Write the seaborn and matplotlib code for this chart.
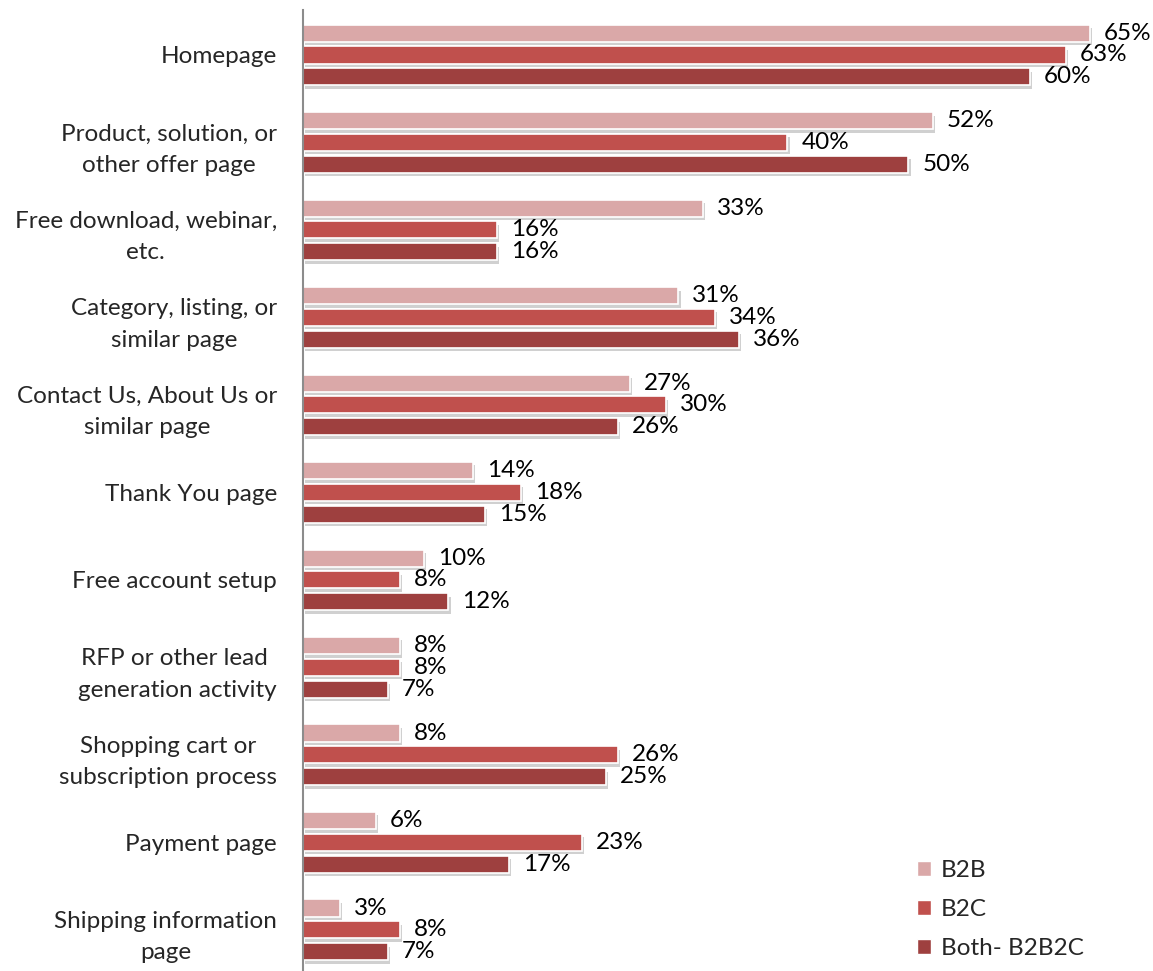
import matplotlib
matplotlib.use("Agg")
import matplotlib.pyplot as plt
import matplotlib.patheffects as pe
from matplotlib.patches import Patch
import pandas as pd
import seaborn as sns

categories = [
    "Homepage",
    "Product, solution, or\nother offer page",
    "Free download, webinar,\netc.",
    "Category, listing, or\nsimilar page",
    "Contact Us, About Us or\nsimilar page",
    "Thank You page",
    "Free account setup",
    "RFP or other lead \ngeneration activity",
    "Shopping cart or\nsubscription process",
    "Payment page",
    "Shipping information\npage",
]
series = ["B2B", "B2C", "Both- B2B2C"]
b2b = [65, 52, 33, 31, 27, 14, 10, 8, 8, 6, 3]
b2c = [63, 40, 16, 34, 30, 18, 8, 8, 26, 23, 8]
both = [60, 50, 16, 36, 26, 15, 12, 7, 25, 17, 7]
colors = ["#DAA8A8", "#C0504D", "#9E403F"]

rows = []
for name, vals in zip(series, [b2b, b2c, both]):
    for cat, v in zip(categories, vals):
        rows.append({"page": cat, "segment": name, "pct": v})
df = pd.DataFrame(rows)

sns.set_theme(style="white")
plt.rcParams["font.family"] = ["Lato", "DejaVu Sans"]

FS = 17.5

fig = plt.figure(figsize=(11.53, 9.71), dpi=100)
ax = fig.add_axes([0.263, 0.0, 0.737, 0.9897])

sns.barplot(data=df, y="page", x="pct", hue="segment", order=categories,
            hue_order=series, palette=colors, saturation=1, orient="h",
            width=0.75, gap=0.22, ax=ax, legend=False, errorbar=None,
            edgecolor="white", linewidth=1.2)

shadow = [pe.SimplePatchShadow(offset=(1.5, -2.5), shadow_rgbFace="#8a8a8a", alpha=0.4),
          pe.Normal()]
for p in ax.patches:
    p.set_path_effects(shadow)

for cont in ax.containers:
    ax.bar_label(cont, fmt="{:.0f}%", padding=10, fontsize=FS, color="black")

ax.set_xlim(0, 70.2)
ax.set_ylim(10.47, -0.514)
ax.set_xlabel("")
ax.set_ylabel("")
ax.set_xticks([])
ax.tick_params(axis="y", length=0, pad=19, labelsize=FS)
for lab in ax.get_yticklabels():
    lab.set_multialignment("center")
    lab.set_linespacing(1.6)

for side in ["top", "right", "bottom"]:
    ax.spines[side].set_visible(False)
ax.spines["left"].set_color("#8c8c8c")
ax.spines["left"].set_linewidth(1.5)

handles = [Patch(facecolor=c, edgecolor="white") for c in colors]
fig.legend(handles, series, loc="upper left", bbox_to_anchor=(0.776, 0.137),
           frameon=False, fontsize=FS, handlelength=0.6, handleheight=0.6,
           handletextpad=0.4, labelspacing=0.75)

fig.savefig("out.png", dpi=100)
